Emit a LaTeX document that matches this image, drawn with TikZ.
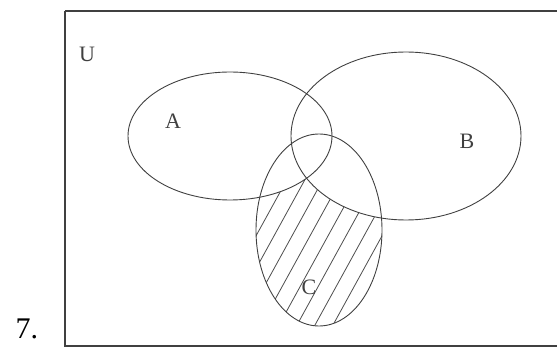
\documentclass[tikz,border=0pt]{standalone}
\usepackage{fontspec}
\setmainfont{Liberation Serif}
\usetikzlibrary{positioning}

\begin{document}
\begin{tikzpicture}[
  x=1pt, y=-1pt,
  setline/.style={draw=black!75, line width=0.9pt},
  frame/.style={draw=black!75, line width=1.3pt},
  hatch/.style={draw=black!70, line width=0.8pt},
  setname/.style={font=\fontsize{22}{22}\selectfont, text=black!75, inner sep=0pt},
  qnum/.style={font=\fontsize{30}{30}\selectfont, inner sep=0pt, anchor=base}
]
\useasboundingbox (0,0) rectangle (557,347);

% universe
\draw[frame] (65,11) coordinate (ul) -- (600,11) (65,11) -- (65,346) -- (600,346);
\node[setname] (labU) at (87,54) {U};
\node[qnum] (num) at (27,339) {7.};

% centres of the three sets
\coordinate (cA) at (230,136);
\coordinate (cB) at (406,136);
\coordinate (cC) at (319,230);

% C only is hatched
\begin{scope}
  \clip (cC) ellipse [x radius=63, y radius=96];
  \foreach \x in {160,178,...,460}
    \draw[hatch] (\x,345) -- ++(121,-220);
  \fill[white] (cA) ellipse [x radius=102, y radius=64];
  \fill[white] (cB) ellipse [x radius=115, y radius=84];
\end{scope}

\draw[setline] (cA) ellipse [x radius=102, y radius=64];
\draw[setline] (cB) ellipse [x radius=115, y radius=84];
\draw[setline] (cC) ellipse [x radius=63, y radius=96];

\node[setname] (labA) at (173,121) {A};
\node[setname] (labB) at (467,141) {B};
\node[setname] (labC) at (309,287) {C};

\end{tikzpicture}
\end{document}
